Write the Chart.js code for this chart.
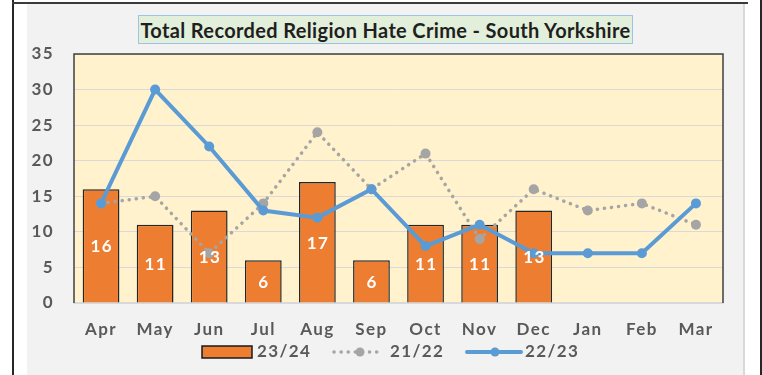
<!DOCTYPE html>
<html>
<head>
<meta charset="utf-8">
<script src="https://cdn.jsdelivr.net/npm/chart.js@4/dist/chart.umd.min.js"></script>
<style>
  html, body { margin: 0; padding: 0; background: #ffffff; }
  body { width: 762px; height: 375px; position: relative; overflow: hidden; font-family: Lato, "Open Sans", sans-serif; }
  .rule { position: absolute; background: #262626; }
  #panel { position: absolute; left: 27px; top: 4px; width: 716px; height: 371px; background: #f2f2f2; border-right: 2px solid #d9d9d9; }
  #chart { position: absolute; left: 0; top: 0; }
  #title { position: absolute; left: 111px; top: 11px; width: 493px; height: 27px; background: #e2efda; border: 1.5px solid #9dc3e6;
           font: bold 20px Lato, sans-serif; color: #1f1f1f; text-align: center; line-height: 28px; letter-spacing: 0.35px; white-space: nowrap; }
</style>
</head>
<body>
<div class="rule" style="left:12px;top:0;width:1.5px;height:375px;"></div>
<div class="rule" style="left:12px;top:2px;width:736px;height:1.5px;background:#3a3a3a;"></div>
<div class="rule" style="left:760px;top:0;width:1.5px;height:375px;"></div>
<div id="panel">
  <canvas id="chart" width="716" height="371"></canvas>
  <div id="title">Total Recorded Religion Hate Crime - South Yorkshire</div>
</div>
<script>
const months = ['Apr', 'May', 'Jun', 'Jul', 'Aug', 'Sep', 'Oct', 'Nov', 'Dec', 'Jan', 'Feb', 'Mar'];
const fy2324 = [16, 11, 13, 6, 17, 6, 11, 11, 13, null, null, null];
const fy2122 = [14, 15, 7, 14, 24, 16, 21, 9, 16, 13, 14, 11];
const fy2223 = [14, 30, 22, 13, 12, 16, 8, 11, 7, 7, 7, 14];
const yTicks = [0, 5, 10, 15, 20, 25, 30, 35];

const ORANGE = '#ed7d31', GREY = '#a5a5a5', BLUE = '#5b9bd5', TEXT = '#595959';
const FONT = 'Lato, "Open Sans", sans-serif';
const SPACING = '1.4px';

// plot background, dark frame on left/top/right, and wider letter spacing for all text
const plotFrame = {
  id: 'plotFrame',
  beforeDraw(chart) {
    const { ctx, chartArea: a } = chart;
    ctx.letterSpacing = SPACING;
    ctx.save();
    ctx.fillStyle = '#fff2cc';
    ctx.fillRect(a.left, a.top, a.right - a.left, a.bottom - a.top);
    ctx.restore();
  },
  afterDraw(chart) {
    const { ctx, chartArea: a } = chart;
    ctx.save();
    ctx.strokeStyle = '#404040';
    ctx.lineWidth = 1.5;
    ctx.beginPath();
    ctx.moveTo(a.left, a.bottom);
    ctx.lineTo(a.left, a.top);
    ctx.lineTo(a.right, a.top);
    ctx.lineTo(a.right, a.bottom);
    ctx.stroke();
    ctx.restore();
  }
};

// white value labels centred in each bar
const barValues = {
  id: 'barValues',
  afterDatasetsDraw(chart) {
    const { ctx } = chart;
    const meta = chart.getDatasetMeta(0);
    const data = chart.data.datasets[0].data;
    ctx.save();
    ctx.letterSpacing = SPACING;
    ctx.fillStyle = '#ffffff';
    ctx.font = 'bold 17px ' + FONT;
    ctx.textAlign = 'center';
    ctx.textBaseline = 'middle';
    meta.data.forEach((bar, i) => {
      if (data[i] == null) return;
      const p = bar.getProps(['x', 'y', 'base'], true);
      ctx.fillText(String(data[i]), p.x + 0.7, (p.y + p.base) / 2 + 1);
    });
    ctx.restore();
  }
};

// legend row under the category axis
const rowLegend = {
  id: 'rowLegend',
  afterDraw(chart) {
    const { ctx } = chart;
    const ds = chart.data.datasets;
    const y = 348;
    ctx.save();
    ctx.letterSpacing = SPACING;
    ctx.font = 'bold 17px ' + FONT;
    ctx.textBaseline = 'middle';
    // bar swatch
    ctx.fillStyle = ORANGE;
    ctx.fillRect(175, y - 6, 50, 12);
    ctx.strokeStyle = '#1a1a1a';
    ctx.lineWidth = 1.5;
    ctx.strokeRect(175, y - 6, 50, 12);
    ctx.fillStyle = TEXT;
    ctx.fillText(ds[0].label, 230, y);
    // dotted grey
    ctx.strokeStyle = GREY;
    ctx.lineWidth = 3.5;
    ctx.lineCap = 'round';
    ctx.setLineDash([0.1, 7]);
    ctx.beginPath();
    ctx.moveTo(307, y); ctx.lineTo(355, y);
    ctx.stroke();
    ctx.setLineDash([]);
    ctx.fillStyle = GREY;
    ctx.beginPath(); ctx.arc(333, y, 4.5, 0, Math.PI * 2); ctx.fill();
    ctx.fillStyle = TEXT;
    ctx.fillText(ds[1].label, 363, y);
    // solid blue
    ctx.strokeStyle = BLUE;
    ctx.lineWidth = 4;
    ctx.beginPath();
    ctx.moveTo(440, y); ctx.lineTo(494, y);
    ctx.stroke();
    ctx.fillStyle = BLUE;
    ctx.beginPath(); ctx.arc(468, y, 4.5, 0, Math.PI * 2); ctx.fill();
    ctx.fillStyle = TEXT;
    ctx.fillText(ds[2].label, 498, y);
    ctx.restore();
  }
};

new Chart(document.getElementById('chart'), {
  data: {
    labels: months,
    datasets: [
      {
        type: 'bar', label: '23/24', data: fy2324, order: 3,
        backgroundColor: ORANGE, borderColor: '#262626', borderWidth: 1.5,
        barPercentage: 0.68, categoryPercentage: 1
      },
      {
        type: 'line', label: '21/22', data: fy2122, order: 2,
        borderColor: GREY, backgroundColor: GREY, borderWidth: 3.5,
        borderDash: [0.1, 7], borderCapStyle: 'round',
        pointRadius: 5, pointBorderWidth: 0, pointBackgroundColor: GREY, tension: 0
      },
      {
        type: 'line', label: '22/23', data: fy2223, order: 1,
        borderColor: BLUE, backgroundColor: BLUE, borderWidth: 4,
        pointRadius: 5, pointBorderWidth: 0, pointBackgroundColor: BLUE, tension: 0
      }
    ]
  },
  options: {
    responsive: false,
    animation: false,
    devicePixelRatio: 1,
    layout: { padding: { left: 0, right: 20, top: 50, bottom: 0 } },
    plugins: { legend: { display: false }, title: { display: false }, tooltip: { enabled: false } },
    scales: {
      x: {
        grid: { display: false, drawTicks: false },
        border: { display: true, color: '#d9d9d9', width: 1.5 },
        ticks: { color: TEXT, font: { family: FONT, size: 17, weight: 'bold' }, padding: 16, maxRotation: 0 },
        afterFit(s) { s.height = 72; }
      },
      y: {
        min: 0, max: 35,
        afterBuildTicks(s) { s.ticks = yTicks.map(v => ({ value: v })); },
        grid: { color: '#d9d9d9', lineWidth: 1, drawTicks: false },
        border: { display: false },
        ticks: { color: TEXT, font: { family: FONT, size: 17, weight: 'bold' }, padding: 20 },
        afterFit(s) { s.width = 47; }
      }
    }
  },
  plugins: [plotFrame, barValues, rowLegend]
});
</script>
</body>
</html>
